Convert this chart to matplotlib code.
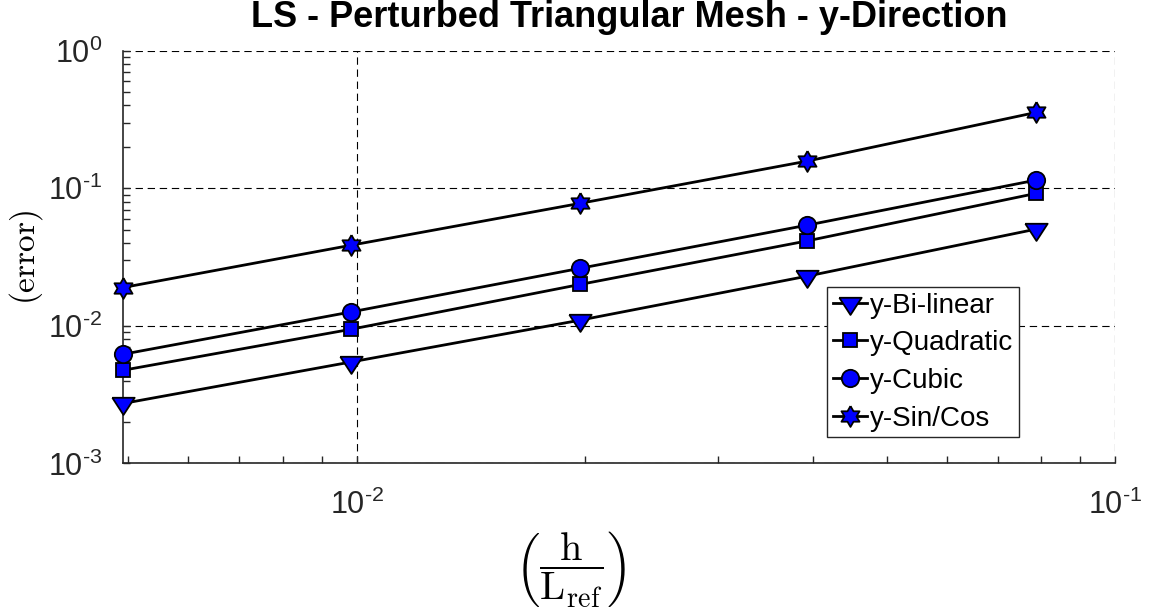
import numpy as np
import matplotlib
matplotlib.use("Agg")
import matplotlib.pyplot as plt
from matplotlib.ticker import FixedLocator, LogLocator, FuncFormatter, NullFormatter

# Mesh size and error values for each reconstruction
h_ratio = [0.00492, 0.00984, 0.0197, 0.0393, 0.0787]
err_bilinear = [0.00273, 0.00547, 0.0110, 0.0230, 0.0505]
err_quadratic = [0.00476, 0.00946, 0.0200, 0.0415, 0.0918]
err_cubic = [0.00622, 0.01264, 0.0262, 0.0540, 0.1147]
err_sincos = [0.0190, 0.0386, 0.0777, 0.1577, 0.356]
series_labels = ["y-Bi-linear", "y-Quadratic", "y-Cubic", "y-Sin/Cos"]
x_major = [1e-2, 1e-1]
y_major = [1e-3, 1e-2, 1e-1, 1e0]

plt.rcParams["font.family"] = ["Liberation Sans", "DejaVu Sans"]
plt.rcParams["lines.scale_dashes"] = False
plt.rcParams["mathtext.fontset"] = "custom"
plt.rcParams["mathtext.rm"] = "Liberation Sans"
plt.rcParams["mathtext.it"] = "Liberation Sans:italic"
plt.rcParams["mathtext.bf"] = "Liberation Sans:bold"

AX = "#262626"

# downward triangle, centroid at the data point
tri_down = [(-1.0, 0.513), (1.0, 0.513), (0.0, -1.027), (-1.0, 0.513)]
# six-pointed star
ang = np.deg2rad(90 + 30 * np.arange(12))
rad = np.where(np.arange(12) % 2 == 0, 1.0, 1 / np.sqrt(3))
hexagram = list(zip(rad * np.cos(ang), rad * np.sin(ang)))
hexagram.append(hexagram[0])

fig = plt.figure(figsize=(11.49, 6.16), dpi=100)
ax = fig.add_axes([0.1071, 0.2476, 0.8633, 0.6701])

styles = [
    (err_bilinear, tri_down, 16.5),
    (err_quadratic, "s", 10.5),
    (err_cubic, "o", 12.5),
    (err_sincos, hexagram, 15),
]
for (vals, mk, ms), lab in zip(styles, series_labels):
    ax.plot(h_ratio, vals, color="black", lw=2.0, marker=mk, ms=ms,
            mfc=(0, 0, 1), mec="black", mew=1.3, label=lab, clip_on=False,
            zorder=3)

ax.set_xscale("log")
ax.set_yscale("log")
ax.set_xlim(h_ratio[0], 0.1)
ax.set_ylim(1e-3, 1e0)

ax.xaxis.set_major_locator(FixedLocator(x_major))
ax.yaxis.set_major_locator(FixedLocator(y_major))
ax.xaxis.set_minor_locator(LogLocator(base=10, subs=np.arange(2, 10)))
ax.yaxis.set_minor_locator(LogLocator(base=10, subs=np.arange(2, 10)))
ax.xaxis.set_minor_formatter(NullFormatter())
ax.yaxis.set_minor_formatter(NullFormatter())
pow_fmt = FuncFormatter(
    lambda v, p: r"$\mathregular{10^{\text{%d}}}$" % round(np.log10(v)))
ax.xaxis.set_major_formatter(pow_fmt)
ax.yaxis.set_major_formatter(pow_fmt)

ax.tick_params(which="both", direction="in", colors=AX, width=1.0)
ax.tick_params(which="major", length=5, labelsize=22)
ax.tick_params(which="minor", length=5)
ax.tick_params(axis="x", which="major", pad=19)
ax.tick_params(axis="y", which="major", pad=15)

for side in ("top", "right"):
    ax.spines[side].set_visible(False)
for side in ("left", "bottom"):
    ax.spines[side].set_color(AX)
    ax.spines[side].set_linewidth(1.2)

ax.grid(True, which="major", color="black", lw=0.8, linestyle=(0, (5.3, 3.4)))
ax.set_axisbelow(True)

ax.set_title("LS - Perturbed Triangular Mesh - y-Direction", fontsize=26,
             fontweight="bold", pad=17, x=0.51)

ax.set_xlabel(r"$\left(\dfrac{\mathrm{h}}{\mathrm{L_{ref}}}\right)$",
              fontsize=29, math_fontfamily="cm", color="black")
ax.xaxis.label.set_va("center")
ax.xaxis.set_label_coords(0.4516, -0.2556)

ax.set_ylabel(r"$(\mathrm{error})$", fontsize=24,
              math_fontfamily="cm", color="black")
ax.yaxis.set_label_coords(-0.0786, 0.5)

leg = ax.legend(loc="upper left", bbox_to_anchor=(0.7097, 0.4276),
                borderaxespad=0, fontsize=20, fancybox=False,
                edgecolor=AX, framealpha=1, borderpad=0.2, labelspacing=0.42,
                handlelength=1.25, handletextpad=0.1)
leg.get_frame().set_linewidth(1.0)

fig.savefig("out.png", dpi=100)
